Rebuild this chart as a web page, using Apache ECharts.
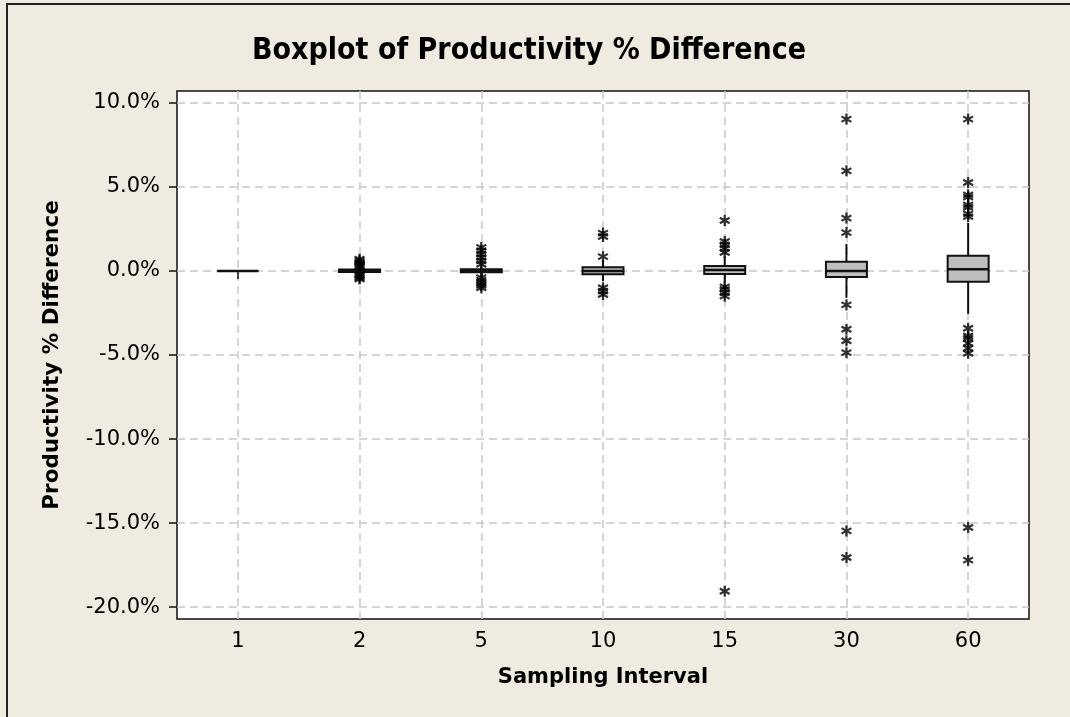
<!DOCTYPE html>
<html>
<head>
<meta charset="utf-8">
<title>Boxplot of Productivity % Difference</title>
<script src="https://cdn.jsdelivr.net/npm/echarts@6/dist/echarts.min.js"></script>
<style>
  html, body { margin: 0; padding: 0; background: #efebe1; }
  #chart { width: 1070px; height: 717px; }
</style>
</head>
<body>
<div id="chart"></div>
<script>
// sampling intervals on the x axis
var categories = ['1', '2', '5', '10', '15', '30', '60'];

// box statistics, % difference
var whiskerLow  = [0, -0.15, -0.2, -0.62, -0.7, -1.6, -2.55];
var q1          = [0, -0.07, -0.08, -0.2, -0.18, -0.36, -0.64];
var median      = [0, 0, 0, 0, 0.05, 0, 0.1];
var q3          = [0, 0.08, 0.1, 0.22, 0.3, 0.55, 0.9];
var whiskerHigh = [0, 0.15, 0.25, 0.6, 0.85, 1.6, 2.85];

// outliers (asterisks) for each interval
var outliers1  = [];
var outliers2  = [0.7, 0.6, 0.5, 0.4, 0.3, 0.25, -0.25, -0.3, -0.4, -0.48];
var outliers5  = [1.4, 1.2, 1.0, 0.8, 0.6, 0.4, -0.4, -0.55, -0.7, -0.85, -1.0];
var outliers10 = [2.25, 2.05, 0.85, -1.0, -1.2, -1.4];
var outliers15 = [3.0, 1.75, 1.55, 1.35, 1.1, -0.95, -1.1, -1.3, -1.5, -19.05];
var outliers30 = [9.03, 5.95, 3.14, 2.28, -2.02, -3.47, -4.15, -4.86, -15.46, -17.04];
var outliers60 = [9.03, 5.26, 4.52, 4.39, 3.93, 3.79, 3.39, 3.23, -3.41, -3.87, -4.0, -4.3, -4.6, -4.9, -15.26, -17.2];

// y tick labels
var yTicks = [-20, -15, -10, -5, 0, 5, 10];

var BOX_W = 41;
var INK = '#111';
var FONT = "'DejaVu Sans', Verdana, sans-serif";

var outlierLists = [outliers1, outliers2, outliers5, outliers10, outliers15, outliers30, outliers60];
var outlierData = [];
outlierLists.forEach(function (list, i) {
  list.forEach(function (v) { outlierData.push([i, v]); });
});

var boxData = categories.map(function (c, i) {
  return [i, whiskerLow[i], q1[i], median[i], q3[i], whiskerHigh[i]];
});

// six-spoke asterisk, like the Minitab outlier symbol
var asterisk = 'path://M8 0L12 0L12 20L8 20Z' +
  'M0.34 6.73L2.34 3.27L19.66 13.27L17.66 16.73Z' +
  'M2.34 16.73L0.34 13.27L17.66 3.27L19.66 6.73Z';

var myChart = echarts.init(document.getElementById('chart'));

var option = {
  backgroundColor: '#efebe1',
  animation: false,
  title: {
    text: 'Boxplot of Productivity % Difference',
    left: 247,
    top: 31,
    textStyle: {
      fontFamily: "'Liberation Sans Narrow', 'DejaVu Sans Condensed', 'DejaVu Sans', sans-serif",
      fontWeight: 'bold',
      fontSize: 30,
      color: '#000'
    }
  },
  graphic: [
    {
      type: 'polyline',
      shape: { points: [[7, 717], [7, 4], [1070, 4]] },
      style: { stroke: '#222', lineWidth: 2, fill: null }
    }
  ],
  grid: {
    left: 177,
    top: 91,
    width: 852,
    height: 528,
    show: true,
    backgroundColor: '#fff',
    borderColor: INK,
    borderWidth: 1.5
  },
  xAxis: {
    type: 'category',
    data: categories,
    boundaryGap: true,
    name: 'Sampling Interval',
    nameLocation: 'middle',
    nameGap: 48,
    nameTextStyle: { fontFamily: FONT, fontWeight: 'bold', fontSize: 21, color: '#000' },
    axisLine: { show: false },
    axisTick: { show: true, alignWithLabel: true, length: 8, lineStyle: { color: INK, width: 1.5 } },
    axisLabel: { fontFamily: FONT, fontSize: 21, color: '#000', margin: 12 },
    splitLine: {
      show: true,
      alignWithLabel: true,
      lineStyle: { color: '#c8c8c8', width: 1.5, type: [8, 5] }
    }
  },
  yAxis: {
    type: 'value',
    min: -20.7,
    max: 10.7,
    name: 'Productivity % Difference',
    nameLocation: 'middle',
    nameGap: 114,
    nameTextStyle: { fontFamily: FONT, fontWeight: 'bold', fontSize: 21.5, color: '#000' },
    axisLine: { show: false },
    axisTick: { show: true, length: 8, customValues: yTicks, lineStyle: { color: INK, width: 1.5 } },
    axisLabel: {
      fontFamily: FONT,
      fontSize: 21,
      color: '#000',
      margin: 17,
      customValues: yTicks,
      formatter: function (v) { return v.toFixed(1) + '%'; }
    },
    splitLine: {
      show: true,
      customValues: yTicks,
      lineStyle: { color: '#c8c8c8', width: 1.5, type: [8, 5] }
    }
  },
  series: [
    {
      type: 'custom',
      data: boxData,
      encode: { x: 0, y: [1, 2, 3, 4, 5] },
      z: 3,
      renderItem: function (params, api) {
        var x = api.value(0);
        var lo = api.coord([x, api.value(1)]);
        var b1 = api.coord([x, api.value(2)]);
        var md = api.coord([x, api.value(3)]);
        var b3 = api.coord([x, api.value(4)]);
        var hi = api.coord([x, api.value(5)]);
        var half = BOX_W / 2;
        var ls = { stroke: INK, lineWidth: 2 };
        return {
          type: 'group',
          children: [
            { type: 'line', shape: { x1: lo[0], y1: lo[1], x2: b1[0], y2: b1[1] }, style: ls },
            { type: 'line', shape: { x1: b3[0], y1: b3[1], x2: hi[0], y2: hi[1] }, style: ls },
            {
              type: 'rect',
              shape: { x: b3[0] - half, y: b3[1], width: 2 * half, height: b1[1] - b3[1] },
              style: { fill: '#bebebe', stroke: INK, lineWidth: 2 }
            },
            { type: 'line', shape: { x1: md[0] - half, y1: md[1], x2: md[0] + half, y2: md[1] }, style: { stroke: INK, lineWidth: 2.5 } }
          ]
        };
      }
    },
    {
      type: 'scatter',
      data: outlierData,
      symbol: asterisk,
      symbolSize: 11,
      z: 4,
      itemStyle: { color: '#000' }
    }
  ]
};

myChart.setOption(option);
</script>
</body>
</html>
